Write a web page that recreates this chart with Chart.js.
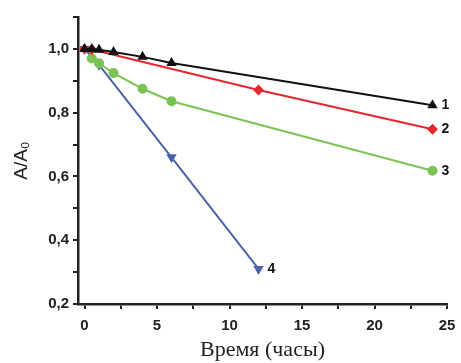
<!DOCTYPE html>
<html><head><meta charset="utf-8">
<script src="https://cdn.jsdelivr.net/npm/chart.js@4/dist/chart.umd.min.js"></script>
<style>html,body{margin:0;padding:0;background:#fff}#w{width:461px;height:363px}</style>
</head><body><div id="w"><canvas id="c"></canvas></div>
<script>
const xTitle = "Время (часы)";
const yTitle = "A/A₀";
const s1x = [0, 0.5, 1, 2, 4, 6, 24];
const s1y = [1.0, 1.0, 0.997, 0.99, 0.975, 0.956, 0.823];
const s2x = [0, 0.5, 12, 24];
const s2y = [1.0, 0.998, 0.871, 0.748];
const s3x = [0.5, 1, 2, 4, 6, 24];
const s3y = [0.97, 0.955, 0.924, 0.875, 0.836, 0.618];
const s4x = [0, 1, 6, 12];
const s4y = [1.0, 0.95, 0.66, 0.31];
const seriesLabels = ["1", "2", "3", "4"];
const xTicks = [0, 5, 10, 15, 20, 25];
const yTicks = [0.2, 0.4, 0.6, 0.8, 1.0];

function pts(xs, ys){ return xs.map((x,i)=>({x:x,y:ys[i]})); }

const endLabels = {
  id:'endLabels',
  afterDatasetsDraw(chart){
    const ctx = chart.ctx;
    ctx.save();
    ctx.font = 'bold 14px "Liberation Sans", Arial, sans-serif';
    ctx.fillStyle = '#111';
    ctx.textBaseline = 'middle';
    chart.data.datasets.forEach((ds, i) => {
      const p = ds.data[ds.data.length-1];
      const x = chart.scales.x.getPixelForValue(p.x);
      const y = chart.scales.y.getPixelForValue(p.y);
      ctx.fillText(seriesLabels[i], x + 9, y);
    });
    ctx.restore();
  }
};

const mk = (data, color, style, rot) => ({
  data: data, borderColor: color, backgroundColor: color, borderWidth: 2,
  pointStyle: style, pointRotation: rot||0, pointRadius: 4, pointHoverRadius: 4,
  tension: 0, fill: false
});

new Chart(document.getElementById('c'), {
  type: 'line',
  data: { datasets: [
    mk(pts(s1x,s1y), '#111111', 'triangle'),
    mk(pts(s2x,s2y), '#e5262b', 'rectRot'),
    mk(pts(s3x,s3y), '#7cc255', 'circle'),
    mk(pts(s4x,s4y), '#4a63a8', 'triangle', 180)
  ]},
  options: {
    responsive: true, maintainAspectRatio: false, animation: false,
    layout: { padding: { top: 17, right: 14, left: 0, bottom: 0 } },
    plugins: { legend: { display: false }, tooltip: { enabled: false } },
    scales: {
      x: {
        type: 'linear', min: -0.45, max: 25,
        afterBuildTicks: s => { const t=[]; for(let v=0; v<=25; v+=2.5) t.push({value:v}); s.ticks=t; },
        afterFit: s => { s.height = 59; s.paddingRight = 14; s.paddingLeft = 0; },
        border: { color: '#222', width: 2.5 },
        grid: { drawOnChartArea: false, color: '#222', tickLength: 5, lineWidth: 2 },
        ticks: { color: '#222', padding: 8, autoSkip: false, maxRotation: 0,
          font: { family: '"Liberation Sans", Arial, sans-serif', size: 15, weight: 'bold' },
          callback: v => xTicks.includes(v) ? String(v) : '' },
        title: { display: true, text: xTitle, color: '#222', padding: { top: 0, bottom: 0 },
          font: { family: '"Liberation Serif", "Times New Roman", serif', size: 22 } }
      },
      y: {
        type: 'linear', min: 0.2, max: 1.1,
        afterBuildTicks: s => { const t=[]; for(let i=2;i<=11;i++) t.push({value:i/10}); s.ticks=t; },
        afterFit: s => { s.width = 78; },
        border: { color: '#222', width: 2.5 },
        grid: { drawOnChartArea: false, color: '#222', tickLength: 5, lineWidth: 2 },
        ticks: { color: '#222', padding: 4, autoSkip: false,
          font: { family: '"Liberation Sans", Arial, sans-serif', size: 15, weight: 'bold' },
          callback: v => { const r = Math.round(v*10)/10; return yTicks.some(t=>Math.abs(t-r)<1e-9) ? r.toFixed(1).replace('.', ',') : ''; } },
        title: { display: true, text: yTitle, color: '#222', padding: { top: 10, bottom: 0 },
          font: { family: '"Liberation Sans", Arial, sans-serif', size: 19 } }
      }
    }
  },
  plugins: [endLabels]
});
</script>
</body></html>
